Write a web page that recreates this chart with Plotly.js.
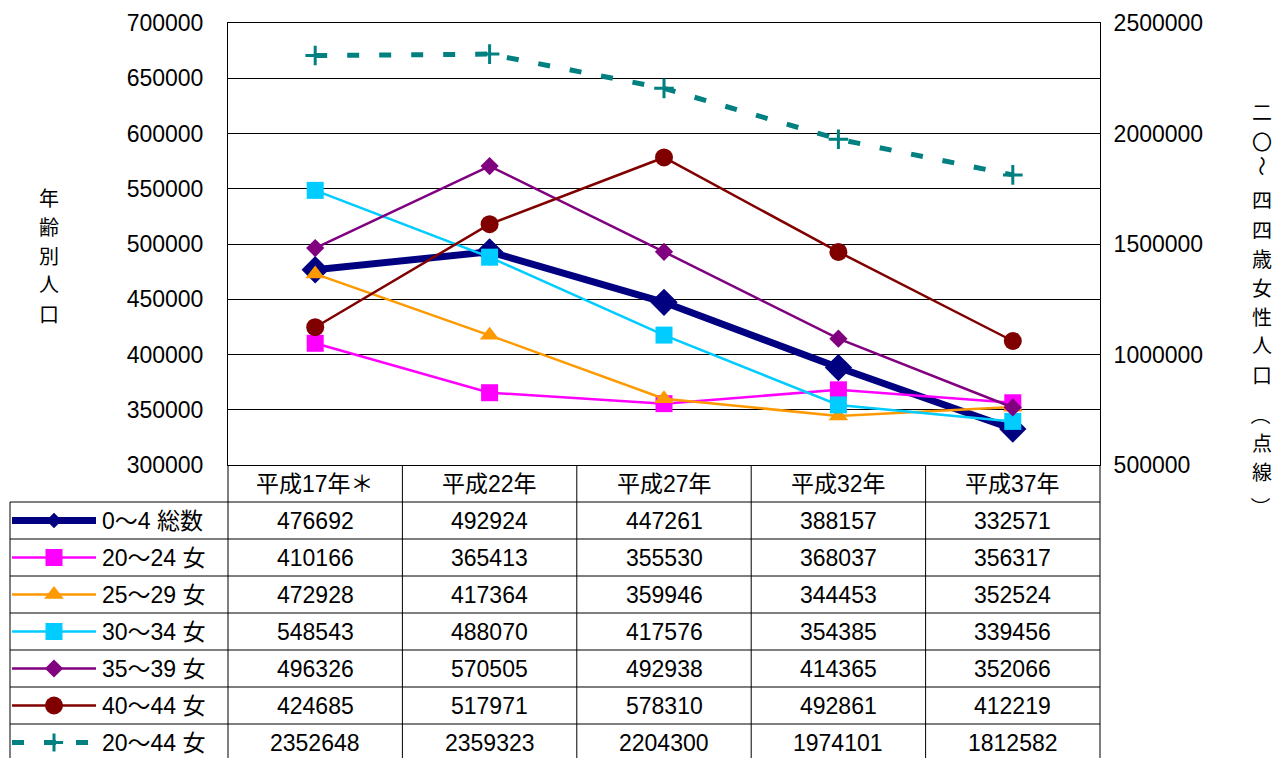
<!DOCTYPE html>
<html><head><meta charset="utf-8">
<script src="https://cdn.plot.ly/plotly-3.0.1.min.js"></script>
<style>html,body{margin:0;padding:0;background:#fff;} #chart{width:1287px;height:758px;}</style>
</head><body><div id="chart"></div>
<script>
// ---- data ----
const categories = ['平成17年＊','平成22年','平成27年','平成32年','平成37年'];
const seriesNames = ['0～4 総数','20～24 女','25～29 女','30～34 女','35～39 女','40～44 女','20～44 女'];
const total0to4    = [476692,492924,447261,388157,332571];
const female20to24 = [410166,365413,355530,368037,356317];
const female25to29 = [472928,417364,359946,344453,352524];
const female30to34 = [548543,488070,417576,354385,339456];
const female35to39 = [496326,570505,492938,414365,352066];
const female40to44 = [424685,517971,578310,492861,412219];
const female20to44 = [2352648,2359323,2204300,1974101,1812582];
const leftTitle = '年齢別人口';
const rightTitle = '二〇～四四歳女性人口（点線）';

const seriesValues = [total0to4,female20to24,female25to29,female30to34,female35to39,female40to44,female20to44];

// ---- styles ----
const styles = [
  {color:'#000080', width:7,   symbol:'diamond',        size:21, keySize:12, dash:'solid', axis:'y'},
  {color:'#FF00FF', width:2.5, symbol:'square',         size:17, keySize:17, dash:'solid', axis:'y'},
  {color:'#FF9900', width:2.5, symbol:'triangle-up',    size:17, keySize:17, dash:'solid', axis:'y'},
  {color:'#00CCFF', width:2.5, symbol:'square',         size:17, keySize:17, dash:'solid', axis:'y'},
  {color:'#800080', width:2.5, symbol:'diamond',        size:14, keySize:14, dash:'solid', axis:'y'},
  {color:'#800000', width:2.5, symbol:'circle',         size:18, keySize:18, dash:'solid', axis:'y'},
  {color:'#008080', width:5,   symbol:'cross-thin-open',size:14, keySize:13, dash:'12px,20px', axis:'y2'}
];

const W = 1287, H = 758;
const PX0 = 228, PX1 = 1100, PY0 = 23, PY1 = 465;
const HEAD_B = 502, ROW_H = 37, TABLE_L = 10, TABLE_B = 758;
const FONT = 'Liberation Sans, Arial, Noto Sans CJK JP, sans-serif';
const CJK = 'Noto Sans CJK JP, sans-serif';
const TITLE_SIZE = 20;
const fx = px => px / W;
const fy = py => 1 - py / H;

const traces = [];
seriesValues.forEach((vals, i) => {
  const s = styles[i];
  traces.push({
    type:'scatter', mode:'lines+markers', x: categories, y: vals,
    xaxis:'x', yaxis: s.axis, name: seriesNames[i], showlegend:false, hoverinfo:'skip',
    line:{color:s.color, width:s.width, dash:s.dash},
    marker:{symbol:s.symbol, size:s.size, color:s.color, line:{color:s.color, width: s.symbol==='cross-thin-open'?3:0}},
    cliponaxis:false
  });
});

// legend keys in the table's first column (overlay axes in pixel units)
seriesNames.forEach((n, i) => {
  const s = styles[i];
  const yc = HEAD_B + ROW_H * (i + 0.5);
  traces.push({
    type:'scatter', mode:'lines+markers', x:[12, 54, 96], y:[yc, yc, yc],
    xaxis:'x3', yaxis:'y3', showlegend:false, hoverinfo:'skip',
    line:{color:s.color, width:s.width, dash:s.dash},
    marker:{symbol:s.symbol, size:[0, s.keySize, 0], opacity:[0,1,0], color:s.color,
            line:{color:s.color, width: s.symbol==='cross-thin-open'?3:0}},
    cliponaxis:false
  });
});

const shapes = [];
const annotations = [];
const colW = (PX1 - PX0) / categories.length;
// vertical table lines
for (let c = 0; c <= categories.length; c++) {
  const x = PX0 + c * colW;
  shapes.push({type:'line', xref:'paper', yref:'paper', x0:fx(x), x1:fx(x), y0:fy(PY1), y1:fy(TABLE_B+2), line:{color:'#000', width:1}});
}
shapes.push({type:'line', xref:'paper', yref:'paper', x0:fx(TABLE_L), x1:fx(TABLE_L), y0:fy(HEAD_B), y1:fy(TABLE_B+2), line:{color:'#000', width:1}});
// horizontal table lines
for (let r = 0; r < seriesNames.length; r++) {
  const y = HEAD_B + r * ROW_H;
  shapes.push({type:'line', xref:'paper', yref:'paper', x0:fx(TABLE_L), x1:fx(PX1), y0:fy(y), y1:fy(y), line:{color:'#000', width:1}});
}
// header
categories.forEach((c, j) => {
  annotations.push({xref:'paper', yref:'paper', x:fx(PX0 + colW*(j+0.5)), y:fy((PY1+HEAD_B)/2), text:c,
    showarrow:false, xanchor:'center', yanchor:'middle', font:{family:FONT, size:23, color:'#000'}});
});
// values + row labels
seriesValues.forEach((vals, i) => {
  const yc = HEAD_B + ROW_H * (i + 0.5);
  annotations.push({xref:'paper', yref:'paper', x:fx(100), y:fy(yc), text:seriesNames[i],
    showarrow:false, xanchor:'left', yanchor:'middle', font:{family:FONT, size:23, color:'#000'}});
  vals.forEach((v, j) => {
    annotations.push({xref:'paper', yref:'paper', x:fx(PX0 + colW*(j+0.5)), y:fy(yc), text:String(v),
      showarrow:false, xanchor:'center', yanchor:'middle', font:{family:FONT, size:23, color:'#000'}});
  });
});
// vertical axis titles: one annotation per character
const leftCenters = [197, 226, 255, 284, 313];
Array.from(leftTitle).forEach((ch, k) => {
  annotations.push({xref:'paper', yref:'paper', x:fx(49), y:fy(leftCenters[k]), text:ch, showarrow:false,
    xanchor:'center', yanchor:'middle', borderpad:0, font:{family:CJK, size:TITLE_SIZE, color:'#000'}});
});
const rightCenters = [112, 141, 166, 200, 229, 258, 287, 316, 345, 374, 415, 442, 471, 507];
Array.from(rightTitle).forEach((ch, k) => {
  const rot = (ch === '～' || ch === '（' || ch === '）') ? 90 : 0;
  annotations.push({xref:'paper', yref:'paper', x:fx(1262), y:fy(rightCenters[k]), text:ch,
    showarrow:false, textangle:rot, borderpad:0,
    xanchor:'center', yanchor:'middle', font:{family:CJK, size:TITLE_SIZE, color:'#000'}});
});

const layout = {
  width:W, height:H, margin:{l:0, r:0, t:0, b:0},
  paper_bgcolor:'#fff', plot_bgcolor:'rgba(0,0,0,0)',
  showlegend:false,
  font:{family:FONT, size:23, color:'#000'},
  xaxis:{domain:[fx(PX0), fx(PX1)], type:'category', range:[-0.5, categories.length-0.5],
    showticklabels:false, ticks:'', showgrid:false, zeroline:false,
    showline:true, mirror:true, linecolor:'#000', linewidth:1, fixedrange:true},
  yaxis:{domain:[fy(PY1), fy(PY0)], range:[300000, 700000], dtick:50000, tick0:300000,
    showgrid:true, gridcolor:'#000', gridwidth:1, zeroline:false,
    showline:true, linecolor:'#000', linewidth:1, ticks:'', ticklabelstandoff:19,
    tickfont:{family:FONT, size:23, color:'#000'}, tickformat:'d', fixedrange:true},
  yaxis2:{overlaying:'y', side:'right', range:[500000, 2500000], dtick:500000, tick0:500000,
    showgrid:false, zeroline:false, showline:true, linecolor:'#000', linewidth:1, ticks:'', ticklabelstandoff:8,
    tickfont:{family:FONT, size:23, color:'#000'}, tickformat:'d', fixedrange:true},
  xaxis3:{domain:[0, fx(PX0)], range:[0, PX0], visible:false, fixedrange:true, anchor:'y3'},
  yaxis3:{domain:[0, fy(HEAD_B)], range:[H, HEAD_B], visible:false, fixedrange:true, anchor:'x3'},
  shapes, annotations
};

Plotly.newPlot('chart', traces, layout, {staticPlot:true, displayModeBar:false});
</script>
</body></html>
